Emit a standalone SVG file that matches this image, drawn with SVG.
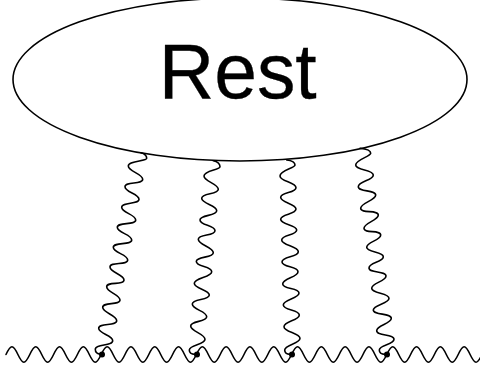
<svg xmlns="http://www.w3.org/2000/svg" width="480" height="376" viewBox="0 0 480 376">
<style>
.l{fill:none;stroke:#000;stroke-width:1.6;stroke-linecap:round}
.d{fill:#000}
</style>
<rect width="480" height="376" fill="#fff"/>
<g id="connectors">
<path class="l" d="M6 354.5c4.9 -10.3 7 -10.3 11.9 0s7 10.3 11.9 0
s7 -10.3 11.9 0s7 10.3 11.9 0
s7 -10.3 11.9 0s7 10.3 11.9 0
s7 -10.3 11.9 0s7 10.3 11.9 0
s7 -10.3 11.9 0s7 10.3 11.9 0
s7 -10.3 11.9 0s7 10.3 11.9 0
s7 -10.3 11.9 0s7 10.3 11.9 0
s7 -10.3 11.9 0s7 10.3 11.9 0
s7 -10.3 11.9 0s7 10.3 11.9 0
s7 -10.3 11.9 0s7 10.3 11.9 0
s7 -10.3 11.9 0s7 10.3 11.9 0
s7 -10.3 11.9 0s7 10.3 11.9 0
s7 -10.3 11.9 0s7 10.3 11.9 0
s7 -10.3 11.9 0s7 10.3 11.9 0
s7 -10.3 11.9 0s7 10.3 11.9 0
s7 -10.3 11.9 0s7 10.3 11.9 0
s7 -10.3 11.9 0s7 10.3 11.9 0
s7 -10.3 11.9 0s7 10.3 11.9 0
s7 -10.3 11.9 0s7 10.3 11.9 0
s7 -10.3 11.9 0s7 10.3 11.9 0"/>
<path class="l" d="M141 152.7C144 153.5 146.7 155 146.7 158.3S128.3 160.5 128.3 166S142.7 173.8 142.7 179.3S125 181.2 125 186.7S139 193.8 139 199.3S121.7 201.8 121.7 207.3S135.7 214.5 135.7 220S117.3 221.8 117.3 227.3S131.7 234.5 131.7 240S113.3 241.8 113.3 247.3S127.7 254.5 127.7 260S110 261.5 110 267S124 274.5 124 280S106.7 281.2 106.7 286.7S120 294.5 120 300S102.7 301.8 102.7 307.3S116.7 315.2 116.7 320.7S98.7 322.8 98.7 328.3S112.7 335.2 112.7 340.7S95.3 343.8 95.3 349.3S100 354 102 354.5"/>
<path class="l" d="M213.3 160.7C217 161.5 220 163.5 220 166.7S204 170.5 204 176S218.3 183.8 218.3 189.3S201.7 192.8 201.7 198.3S216.7 205.2 216.7 210.7S200 214.5 200 220S215 225.2 215 230.7S198.3 233.8 198.3 239.3S213.3 247.2 213.3 252.7S196.3 256 196.3 261.5S211.7 266.2 211.7 271.7S194.3 277.8 194.3 283.3S209.3 289.5 209.3 295S192.3 298.5 192.3 304S206.7 311.2 206.7 316.7S190.7 320.5 190.7 326S205 333.8 205 339.3S189.3 344.5 189.3 350S195 354 197 354.5"/>
<path class="l" d="M286.7 160C291 160.5 295 162 295 165S280 170.5 280 176S296 182.2 296 187.7S280.7 191.8 280.7 197.3S296 203.5 296 209S280.7 213.8 280.7 219.3S296.7 224.5 296.7 230S281.7 234.5 281.7 240S298.3 246.2 298.3 251.7S282 256.5 282 262S298 266.2 298 271.7S282.7 278.5 282.7 284S299 287.5 299 293S283.3 299.5 283.3 305S299.3 309.5 299.3 315S284 321.2 284 326.7S300 332.8 300 338.3S284.7 344.5 284.7 350S290 354 292 354.5"/>
<path class="l" d="M360 148.3C365 148.8 370.7 150 370.7 153.3S355.7 159.5 355.7 165S373.3 169.5 373.3 175S358.3 181.2 358.3 186.7S375.7 189.5 375.7 195S360.7 202.8 360.7 208.3S378.3 209.5 378.3 215S364 222.8 364 228.3S380.7 229.5 380.7 235S366.7 241.8 366.7 247.3S383.3 251.2 383.3 256.7S369 262.5 369 268S386 270.5 386 276S371.7 282.8 371.7 288.3S389 292.8 389 298.3S373.3 304.5 373.3 310S391.3 312.8 391.3 318.3S376.7 325.2 376.7 330.7S394 333.8 394 339.3S379.3 344.5 379.3 350S385 354 387 354.5"/>
</g>
<g id="rest">
<ellipse cx="240" cy="79.5" rx="227" ry="81.5" fill="none" stroke="#000" stroke-width="1.6"/>
<text x="158.7" y="97.7" textLength="158" lengthAdjust="spacingAndGlyphs" font-family="'Liberation Sans',Arial,sans-serif" font-size="78" fill="#000" stroke="#000" stroke-width="0.3">Rest</text>
</g>
<g id="vertices">
<circle class="d" cx="102" cy="354.5" r="3"/>
<circle class="d" cx="197" cy="354.5" r="3"/>
<circle class="d" cx="292" cy="354.5" r="3"/>
<circle class="d" cx="387" cy="354.5" r="3"/>
</g>
</svg>
